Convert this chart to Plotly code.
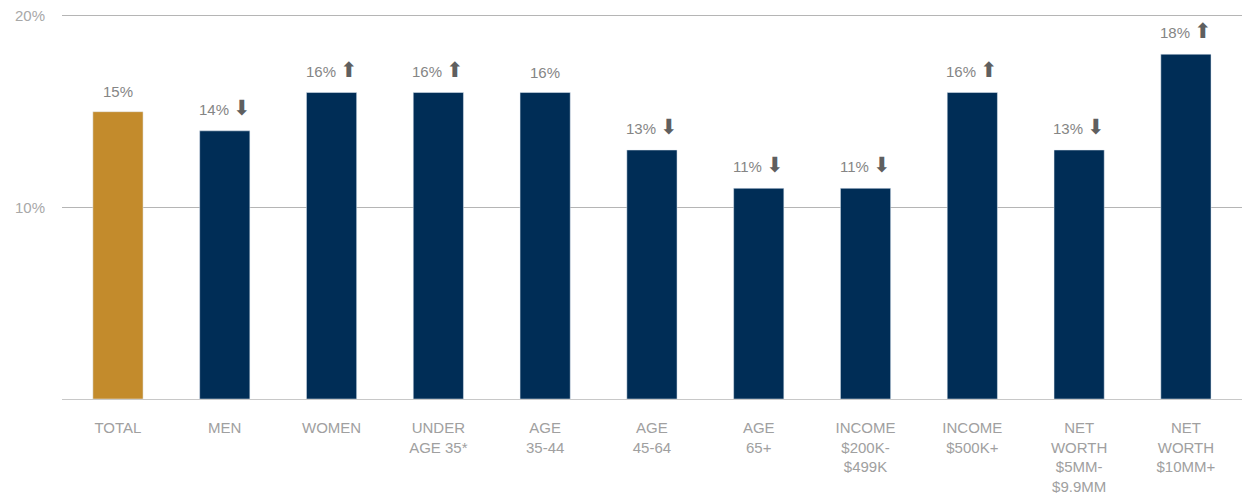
import plotly.graph_objects as go

categories = ["TOTAL", "MEN", "WOMEN", "UNDER<br>AGE 35*", "AGE<br>35-44", "AGE<br>45-64",
              "AGE<br>65+", "INCOME<br>$200K-<br>$499K", "INCOME<br>$500K+",
              "NET<br>WORTH<br>$5MM-<br>$9.9MM", "NET<br>WORTH<br>$10MM+"]
values = [15, 14, 16, 16, 16, 13, 11, 11, 16, 13, 18]
trend = ["", "down", "up", "up", "", "down", "down", "down", "up", "down", "up"]
colors = ["#c38b2c"] + ["#002d56"] * 10

x = list(range(len(categories)))

fig = go.Figure()
fig.add_trace(go.Bar(x=x, y=values, marker_color=colors, width=0.47,
                     hoverinfo="skip"))

arrow = {"up": "⬆", "down": "⬇", "": ""}
for xi, v, t in zip(x, values, trend):
    txt = f"{v}%"
    if t:
        txt += f" <span style='color:#5f5f5f;font-size:21px'>{arrow[t]}</span>"
    fig.add_annotation(x=xi, y=v, text=txt, showarrow=False, yanchor="bottom",
                       yshift=10, font=dict(family="Liberation Sans, Arial", size=15, color="#858585"))

fig.update_layout(
    width=1242, height=487,
    margin=dict(l=54, r=0, t=6, b=96),
    plot_bgcolor="white", paper_bgcolor="white",
    showlegend=False,
    xaxis=dict(tickvals=x, ticktext=categories, range=[-0.524, 10.6],
               showgrid=False, zeroline=False, showline=False, ticks="",
               automargin=False, ticklabelstandoff=18,
               tickfont=dict(family="Liberation Sans, Arial", size=15, color="#a0a0a0")),
    yaxis=dict(range=[0, 20.1], tickvals=[0, 10, 20], ticktext=["", "10%", "20%"],
               showgrid=True, gridcolor="#b5b5b5", gridwidth=1,
               zeroline=True, zerolinecolor="#c8c8c8", zerolinewidth=1,
               showline=False, ticks="", ticklabelstandoff=16, automargin=False,
               ticklabeloverflow="allow",
               tickfont=dict(family="Liberation Sans, Arial", size=15, color="#a8a8a8")),
)

fig.write_html("out.html")
